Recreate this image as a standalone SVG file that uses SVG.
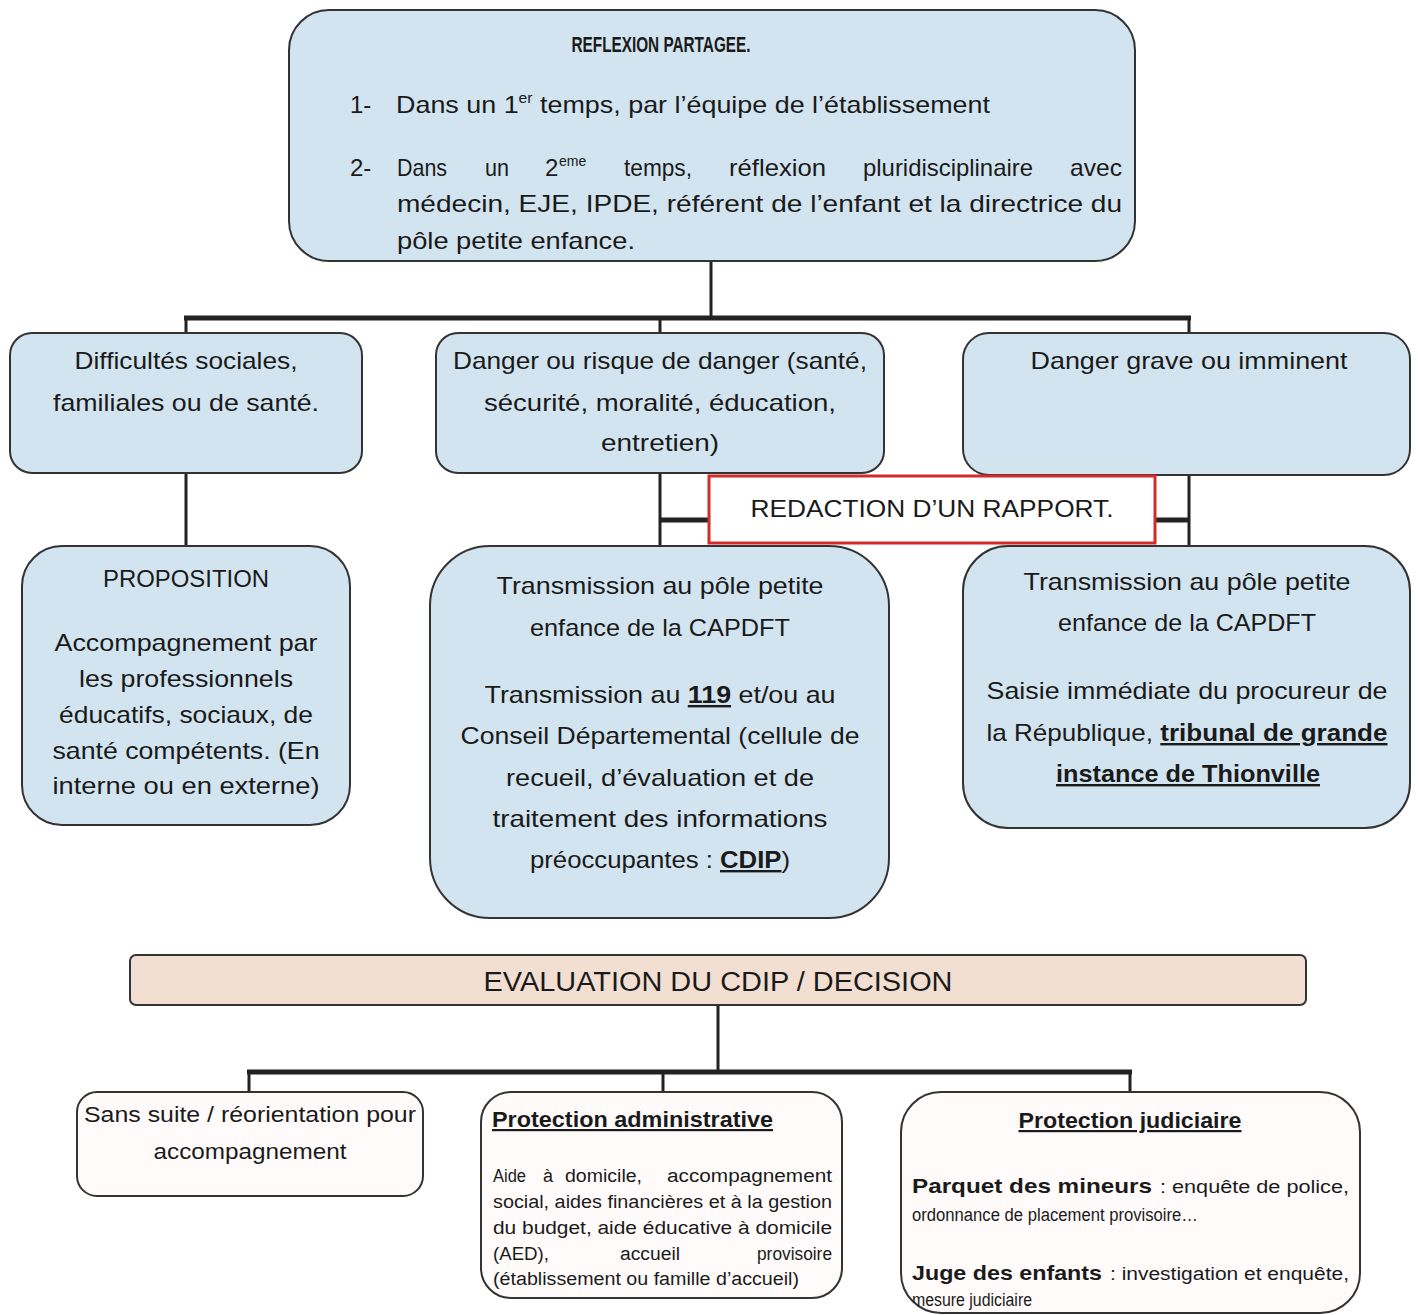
<svg xmlns="http://www.w3.org/2000/svg" width="1418" height="1315" viewBox="0 0 1418 1315">
<style>
.box{fill:#d2e4ef;stroke:#333;stroke-width:2}
.wbox{fill:#fffbfb;stroke:#333;stroke-width:2}
.t{font-family:"Liberation Sans",Arial,sans-serif;font-size:24px;fill:#1a1a1a}
.c{text-anchor:middle}
.b{font-weight:bold}
.u{text-decoration:underline}
.s{font-size:18px}
.m{font-size:22px}
.sup{font-size:14px}
.conn{stroke:#222;fill:none}
</style>
<defs>
<clipPath id="clipTop"><rect x="289" y="10" width="846" height="251" rx="40"/></clipPath>
<clipPath id="clipJud"><rect x="901" y="1092" width="459" height="221" rx="40"/></clipPath>
</defs>
<rect width="1418" height="1315" fill="#ffffff"/>

<g id="connectors">
<line class="conn" x1="711" y1="262" x2="711" y2="318" stroke-width="3"/>
<line class="conn" x1="184" y1="318" x2="1191" y2="318" stroke-width="5"/>
<line class="conn" x1="186" y1="318" x2="186" y2="334" stroke-width="3"/>
<line class="conn" x1="660" y1="318" x2="660" y2="334" stroke-width="3"/>
<line class="conn" x1="1189" y1="318" x2="1189" y2="334" stroke-width="3"/>
<line class="conn" x1="186" y1="473" x2="186" y2="547" stroke-width="3"/>
<line class="conn" x1="660" y1="473" x2="660" y2="547" stroke-width="3"/>
<line class="conn" x1="1189" y1="475" x2="1189" y2="547" stroke-width="3"/>
<line class="conn" x1="660" y1="520" x2="709" y2="520" stroke-width="5"/>
<line class="conn" x1="1155" y1="520" x2="1189" y2="520" stroke-width="5"/>
<line class="conn" x1="718" y1="1005" x2="718" y2="1072" stroke-width="3"/>
<line class="conn" x1="247" y1="1072" x2="1132" y2="1072" stroke-width="5"/>
<line class="conn" x1="249" y1="1072" x2="249" y2="1093" stroke-width="3"/>
<line class="conn" x1="663" y1="1072" x2="663" y2="1093" stroke-width="3"/>
<line class="conn" x1="1130" y1="1072" x2="1130" y2="1093" stroke-width="3"/>
</g>

<g id="reflexion">
<rect class="box" x="289" y="10" width="846" height="251" rx="40"/>
<g clip-path="url(#clipTop)">
<text class="t c b" x="661" y="52" style="font-size:22px" textLength="179" lengthAdjust="spacingAndGlyphs">REFLEXION PARTAGEE.</text>
<text class="t" x="350" y="113">1-</text>
<text class="t" x="396" y="113" textLength="594" lengthAdjust="spacingAndGlyphs">Dans un 1<tspan class="sup" dy="-10">er</tspan><tspan dy="10"> temps, par l’équipe de l’établissement</tspan></text>
<text class="t" x="350" y="176">2-</text>
<text class="t" x="397" y="176" textLength="50" lengthAdjust="spacingAndGlyphs">Dans</text>
<text class="t" x="485" y="176" textLength="24" lengthAdjust="spacingAndGlyphs">un</text>
<text class="t" x="545" y="176">2</text>
<text class="t sup" x="559" y="166">eme</text>
<text class="t" x="624" y="176" textLength="68" lengthAdjust="spacingAndGlyphs">temps,</text>
<text class="t" x="729" y="176" textLength="97" lengthAdjust="spacingAndGlyphs">réflexion</text>
<text class="t" x="863" y="176" textLength="170" lengthAdjust="spacingAndGlyphs">pluridisciplinaire</text>
<text class="t" x="1070" y="176" textLength="52" lengthAdjust="spacingAndGlyphs">avec</text>
<text class="t" x="397" y="212" textLength="725" lengthAdjust="spacingAndGlyphs">médecin, EJE, IPDE, référent de l’enfant et la directrice du</text>
<text class="t" x="397" y="249" textLength="238" lengthAdjust="spacingAndGlyphs">pôle petite enfance.</text>
</g>
</g>

<g id="difficultes">
<rect class="box" x="10" y="333" width="352" height="140" rx="22"/>
<text class="t c" x="186" y="369" textLength="223" lengthAdjust="spacingAndGlyphs">Difficultés sociales,</text>
<text class="t c" x="186" y="411" textLength="266" lengthAdjust="spacingAndGlyphs">familiales ou de santé.</text>
</g>

<g id="danger">
<rect class="box" x="436" y="333" width="448" height="140" rx="22"/>
<text class="t c" x="660" y="369" textLength="414" lengthAdjust="spacingAndGlyphs">Danger ou risque de danger (santé,</text>
<text class="t c" x="660" y="411" textLength="352" lengthAdjust="spacingAndGlyphs">sécurité, moralité, éducation,</text>
<text class="t c" x="660" y="451" textLength="118" lengthAdjust="spacingAndGlyphs">entretien)</text>
</g>

<g id="danger-grave">
<rect class="box" x="963" y="333" width="447" height="142" rx="26"/>
<text class="t c" x="1189" y="369" textLength="317" lengthAdjust="spacingAndGlyphs">Danger grave ou imminent</text>
</g>

<g id="rapport">
<rect x="709" y="476" width="446" height="67" fill="#ffffff" stroke="#d42a2a" stroke-width="3"/>
<text class="t c" x="932" y="517" textLength="363" lengthAdjust="spacingAndGlyphs">REDACTION D’UN RAPPORT.</text>
</g>

<g id="proposition">
<rect class="box" x="22" y="546" width="328" height="279" rx="40"/>
<text class="t c" x="186" y="587" textLength="166" lengthAdjust="spacingAndGlyphs">PROPOSITION</text>
<text class="t c" x="186" y="651" textLength="263" lengthAdjust="spacingAndGlyphs">Accompagnement par</text>
<text class="t c" x="186" y="687" textLength="214" lengthAdjust="spacingAndGlyphs">les professionnels</text>
<text class="t c" x="186" y="723" textLength="254" lengthAdjust="spacingAndGlyphs">éducatifs, sociaux, de</text>
<text class="t c" x="186" y="759" textLength="267" lengthAdjust="spacingAndGlyphs">santé compétents. (En</text>
<text class="t c" x="186" y="794" textLength="267" lengthAdjust="spacingAndGlyphs">interne ou en externe)</text>
</g>

<g id="transmission-cdip">
<rect class="box" x="430" y="546" width="459" height="372" rx="60"/>
<text class="t c" x="660" y="594" textLength="327" lengthAdjust="spacingAndGlyphs">Transmission au pôle petite</text>
<text class="t c" x="660" y="636" textLength="260" lengthAdjust="spacingAndGlyphs">enfance de la CAPDFT</text>
<text class="t c" x="660" y="703" textLength="351" lengthAdjust="spacingAndGlyphs">Transmission au <tspan class="b u">119</tspan> et/ou au</text>
<text class="t c" x="660" y="744" textLength="399" lengthAdjust="spacingAndGlyphs">Conseil Départemental (cellule de</text>
<text class="t c" x="660" y="786" textLength="308" lengthAdjust="spacingAndGlyphs">recueil, d’évaluation et de</text>
<text class="t c" x="660" y="827" textLength="335" lengthAdjust="spacingAndGlyphs">traitement des informations</text>
<text class="t c" x="660" y="868" textLength="260" lengthAdjust="spacingAndGlyphs">préoccupantes : <tspan class="b u">CDIP</tspan>)</text>
</g>

<g id="transmission-procureur">
<rect class="box" x="963" y="546" width="447" height="282" rx="45"/>
<text class="t c" x="1187" y="590" textLength="327" lengthAdjust="spacingAndGlyphs">Transmission au pôle petite</text>
<text class="t c" x="1187" y="631" textLength="258" lengthAdjust="spacingAndGlyphs">enfance de la CAPDFT</text>
<text class="t c" x="1187" y="699" textLength="401" lengthAdjust="spacingAndGlyphs">Saisie immédiate du procureur de</text>
<text class="t c" x="1187" y="741" textLength="401" lengthAdjust="spacingAndGlyphs">la République, <tspan class="b u">tribunal de grande</tspan></text>
<text class="t c b u" x="1188" y="782" textLength="264" lengthAdjust="spacingAndGlyphs">instance de Thionville</text>
</g>

<g id="evaluation">
<rect x="130" y="955" width="1176" height="50" rx="6" fill="#f2dfd2" stroke="#333" stroke-width="2"/>
<text class="t c" x="718" y="991" style="font-size:27px" textLength="469" lengthAdjust="spacingAndGlyphs">EVALUATION DU CDIP / DECISION</text>
</g>

<g id="sans-suite">
<rect class="wbox" x="77" y="1092" width="346" height="104" rx="20"/>
<text class="t c m" x="250" y="1122" textLength="332" lengthAdjust="spacingAndGlyphs">Sans suite / réorientation pour</text>
<text class="t c m" x="250" y="1159" textLength="193" lengthAdjust="spacingAndGlyphs">accompagnement</text>
</g>

<g id="protection-admin">
<rect class="wbox" x="481" y="1092" width="361" height="206" rx="30"/>
<text class="t b u m" x="492" y="1127" textLength="281" lengthAdjust="spacingAndGlyphs">Protection administrative</text>
<text class="t s" x="493" y="1182" textLength="33" lengthAdjust="spacingAndGlyphs">Aide</text>
<text class="t s" x="543" y="1182">à</text>
<text class="t s" x="565" y="1182" textLength="77" lengthAdjust="spacingAndGlyphs">domicile,</text>
<text class="t s" x="667" y="1182" textLength="165" lengthAdjust="spacingAndGlyphs">accompagnement</text>
<text class="t s" x="493" y="1208" textLength="339" lengthAdjust="spacingAndGlyphs">social, aides financières et à la gestion</text>
<text class="t s" x="493" y="1234" textLength="339" lengthAdjust="spacingAndGlyphs">du budget, aide éducative à domicile</text>
<text class="t s" x="493" y="1260" textLength="56" lengthAdjust="spacingAndGlyphs">(AED),</text>
<text class="t s" x="620" y="1260" textLength="60" lengthAdjust="spacingAndGlyphs">accueil</text>
<text class="t s" x="757" y="1260" textLength="75" lengthAdjust="spacingAndGlyphs">provisoire</text>
<text class="t s" x="493" y="1285" textLength="306" lengthAdjust="spacingAndGlyphs">(établissement ou famille d’accueil)</text>
</g>

<g id="protection-judiciaire">
<rect class="wbox" x="901" y="1092" width="459" height="221" rx="40"/>
<g clip-path="url(#clipJud)">
<text class="t c b u m" x="1130" y="1128" textLength="223" lengthAdjust="spacingAndGlyphs">Protection judiciaire</text>
<text class="t b" x="912" y="1193" style="font-size:21px" textLength="240" lengthAdjust="spacingAndGlyphs">Parquet des mineurs</text>
<text class="t s" x="1160" y="1193" textLength="189" lengthAdjust="spacingAndGlyphs">: enquête de police,</text>
<text class="t s" x="912" y="1221" textLength="286" lengthAdjust="spacingAndGlyphs">ordonnance de placement provisoire…</text>
<text class="t b" x="912" y="1280" style="font-size:21px" textLength="190" lengthAdjust="spacingAndGlyphs">Juge des enfants</text>
<text class="t s" x="1110" y="1280" textLength="239" lengthAdjust="spacingAndGlyphs">: investigation et enquête,</text>
<text class="t s" x="912" y="1306" textLength="120" lengthAdjust="spacingAndGlyphs">mesure judiciaire</text>
</g>
</g>
</svg>
